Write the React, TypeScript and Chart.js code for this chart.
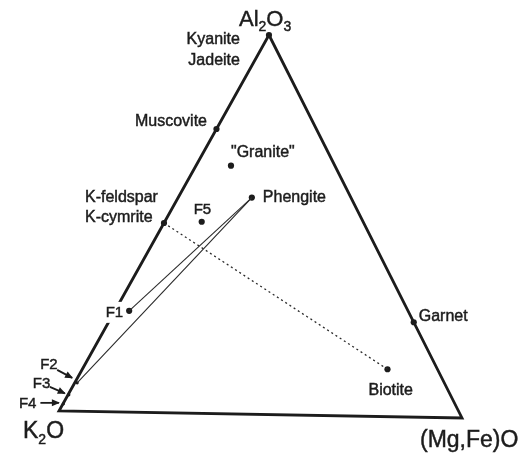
import React, { useEffect, useRef } from "react";
import { Chart, registerables } from "chart.js";

Chart.register(...registerables);

// ---------- data (ternary fractions: Al2O3, K2O, (Mg,Fe)O) ----------
const phaseNames = ["Apex", "Muscovite", "K-feldspar", "Garnet", "Biotite", "Granite", "Phengite", "F5", "F1", "F2", "F3", "F4"];
const al2o3 = [1.0, 0.75, 0.5, 0.25, 0.125, 0.654, 0.571, 0.505, 0.267, 0.075, 0.043, 0.019];
const k2o = [0.0, 0.25, 0.5, 0.0, 0.125, 0.26, 0.248, 0.404, 0.698, 0.919, 0.955, 0.98];
const mgfeo = [0.0, 0.0, 0.0, 0.75, 0.75, 0.086, 0.181, 0.091, 0.035, 0.006, 0.002, 0.001];

const vertexNames = ["Al2O3", "K2O", "(Mg,Fe)O"];
const solidTies = [["Phengite", "F1"], ["Phengite", "F2"]];
const dottedTies = [["K-feldspar", "Biotite"]];
const smallDots = ["F2", "F3", "F4"];

// ---------- ternary frame (data space) ----------
const TOP = { x: 0.521, y: 1 };
const LEFT = { x: 0, y: 0 };
const RIGHT = { x: 1, y: -0.0186 };

function toXY(a: number, k: number, m: number) {
  const s = a + k + m;
  return {
    x: (a * TOP.x + k * LEFT.x + m * RIGHT.x) / s,
    y: (a * TOP.y + k * LEFT.y + m * RIGHT.y) / s,
  };
}

const points = phaseNames.map((_, i) => toXY(al2o3[i], k2o[i], mgfeo[i]));
const idx = (n: string) => phaseNames.indexOf(n);

// label placement (pixel offsets from the point)
type Lab = { text: string; at: string; dx: number; dy: number; align: CanvasTextAlign; size: number; bg?: boolean };
const labels: Lab[] = [
  { text: "Kyanite", at: "Apex", dx: -29, dy: 4, align: "right", size: 16 },
  { text: "Jadeite", at: "Apex", dx: -29, dy: 24.5, align: "right", size: 16 },
  { text: "Muscovite", at: "Muscovite", dx: -9.5, dy: -8.5, align: "right", size: 16 },
  { text: "K-feldspar", at: "K-feldspar", dx: -79, dy: -26, align: "left", size: 16 },
  { text: "K-cymrite", at: "K-feldspar", dx: -79, dy: -6, align: "left", size: 16 },
  { text: "\"Granite\"", at: "Granite", dx: 0, dy: -14, align: "left", size: 16 },
  { text: "Phengite", at: "Phengite", dx: 11, dy: -1, align: "left", size: 16 },
  { text: "F5", at: "F5", dx: -8, dy: -13, align: "left", size: 15 },
  { text: "F1", at: "F1", dx: -6, dy: 1, align: "right", size: 15, bg: true },
  { text: "Garnet", at: "Garnet", dx: 5, dy: -7, align: "left", size: 16 },
  { text: "Biotite", at: "Biotite", dx: -19, dy: 20, align: "left", size: 16 },
];

// arrow labels: text position and arrow start relative to the point
type ArrowLab = { text: string; at: string; tx: number; ty: number; sx: number; sy: number; ex: number; ey: number };
const arrowLabels: ArrowLab[] = [
  { text: "F2", at: "F2", tx: -37, ty: -19, sx: -20, sy: -13, ex: -5, ey: -5 },
  { text: "F3", at: "F3", tx: -36, ty: -12, sx: -19, sy: -8, ex: -4, ey: -1.5 },
  { text: "F4", at: "F4", tx: -44.5, ty: -1.5, sx: -23, sy: -1, ex: -4.5, ey: -1 },
];

const FONT = "'Liberation Sans', Arial, sans-serif";
const INK = "#1c1c1c";

function fillHeavy(ctx: CanvasRenderingContext2D, t: string, x: number, y: number) {
  ctx.lineWidth = 0.45;
  ctx.strokeStyle = INK;
  ctx.strokeText(t, x, y);
  ctx.fillText(t, x, y);
}

function drawArrow(ctx: CanvasRenderingContext2D, x1: number, y1: number, x2: number, y2: number) {
  ctx.beginPath();
  ctx.moveTo(x1, y1);
  ctx.lineTo(x2, y2);
  ctx.lineWidth = 1.8;
  ctx.strokeStyle = INK;
  ctx.stroke();
  const ang = Math.atan2(y2 - y1, x2 - x1);
  const L = 7, W = 3.5;
  ctx.beginPath();
  ctx.moveTo(x2 + Math.cos(ang) * 1, y2 + Math.sin(ang) * 1);
  ctx.lineTo(x2 - Math.cos(ang) * L - Math.sin(ang) * W, y2 - Math.sin(ang) * L + Math.cos(ang) * W);
  ctx.lineTo(x2 - Math.cos(ang) * L + Math.sin(ang) * W, y2 - Math.sin(ang) * L - Math.cos(ang) * W);
  ctx.closePath();
  ctx.fillStyle = INK;
  ctx.fill();
}

function drawSubText(ctx: CanvasRenderingContext2D, parts: { t: string; sub?: boolean }[], x: number, y: number, size: number) {
  let cx = x;
  ctx.textAlign = "left";
  ctx.textBaseline = "alphabetic";
  ctx.fillStyle = INK;
  for (const p of parts) {
    const s = p.sub ? Math.round(size * 0.62) : size;
    ctx.font = `${s}px ${FONT}`;
    fillHeavy(ctx, p.t, cx, p.sub ? y + size * 0.24 : y);
    cx += ctx.measureText(p.t).width;
  }
}

const labelPlugin = {
  id: "ternaryLabels",
  afterDatasetsDraw(chart: any) {
    const ctx: CanvasRenderingContext2D = chart.ctx;
    const xs = chart.scales.x;
    const ys = chart.scales.y;
    const pix = (p: { x: number; y: number }) => [xs.getPixelForValue(p.x), ys.getPixelForValue(p.y)];
    ctx.save();
    for (const l of labels) {
      const [px, py] = pix(points[idx(l.at)]);
      ctx.font = `${l.size}px ${FONT}`;
      ctx.textAlign = l.align;
      ctx.textBaseline = "middle";
      const x = px + l.dx;
      const y = py + l.dy;
      if (l.bg) {
        const w = ctx.measureText(l.text).width;
        const left = l.align === "right" ? x - w : x;
        ctx.fillStyle = "#ffffff";
        ctx.fillRect(left - 2, y - 10, w + 3, 21);
      }
      ctx.fillStyle = INK;
      fillHeavy(ctx, l.text, x, y + 1);
    }
    for (const a of arrowLabels) {
      const [px, py] = pix(points[idx(a.at)]);
      ctx.font = `15px ${FONT}`;
      ctx.textAlign = "left";
      ctx.textBaseline = "middle";
      ctx.fillStyle = INK;
      fillHeavy(ctx, a.text, px + a.tx, py + a.ty + 1);
      drawArrow(ctx, px + a.sx, py + a.sy, px + a.ex, py + a.ey);
    }
    // vertex labels
    const [tx, ty] = pix(TOP);
    const [lx, ly] = pix(LEFT);
    const [rx, ry] = pix(RIGHT);
    drawSubText(ctx, [{ t: "Al" }, { t: "2", sub: true }, { t: "O" }, { t: "3", sub: true }], tx - 30, ty - 9, 22);
    drawSubText(ctx, [{ t: "K" }, { t: "2", sub: true }, { t: "O" }], lx - 36, ly + 27, 23);
    drawSubText(ctx, [{ t: vertexNames[2] }], rx - 42, ry + 29, 23);
    ctx.restore();
  },
};

export default function App() {
  const ref = useRef<HTMLCanvasElement | null>(null);
  useEffect(() => {
    if (!ref.current) return;
    const frame = [TOP, LEFT, RIGHT, TOP];
    const tie = (pair: string[]) => [points[idx(pair[0])], points[idx(pair[1])]];
    const dotIdx = phaseNames.map((_, i) => i);
    const chart = new Chart(ref.current, {
      type: "scatter",
      data: {
        datasets: [
          {
            label: "frame",
            data: frame,
            showLine: true,
            borderColor: INK,
            borderWidth: 2.8,
            borderJoinStyle: "miter",
            pointRadius: 0,
            clip: false,
          } as any,
          ...solidTies.map((p) => ({
            label: p.join("-"),
            data: tie(p),
            showLine: true,
            borderColor: "#2a2a2a",
            borderWidth: 1.1,
            pointRadius: 0,
            clip: false,
          })),
          ...dottedTies.map((p) => ({
            label: p.join("-"),
            data: tie(p),
            showLine: true,
            borderColor: "#2a2a2a",
            borderWidth: 1.3,
            borderDash: [2, 3],
            pointRadius: 0,
            clip: false,
          })),
          {
            label: "phases",
            data: dotIdx.map((i) => points[i]),
            showLine: false,
            pointRadius: dotIdx.map((i) => (smallDots.includes(phaseNames[i]) ? 1.6 : 3.1)),
            pointBackgroundColor: INK,
            pointBorderWidth: 0,
            clip: false,
          } as any,
        ],
      },
      options: {
        animation: false,
        responsive: false,
        devicePixelRatio: 1,
        layout: { padding: { left: 59, right: 62, top: 35, bottom: 43 } },
        plugins: { legend: { display: false }, tooltip: { enabled: false } },
        events: [],
        scales: {
          x: { type: "linear", min: 0, max: 1, display: false },
          y: { type: "linear", min: 0, max: 1, display: false },
        },
      },
      plugins: [labelPlugin],
    });
    return () => chart.destroy();
  }, []);
  return (
    <div style={{ position: "fixed", left: 0, top: 0, width: 524, height: 454, background: "#fff" }}>
      <canvas ref={ref} width={524} height={454} style={{ display: "block" }} />
    </div>
  );
}
